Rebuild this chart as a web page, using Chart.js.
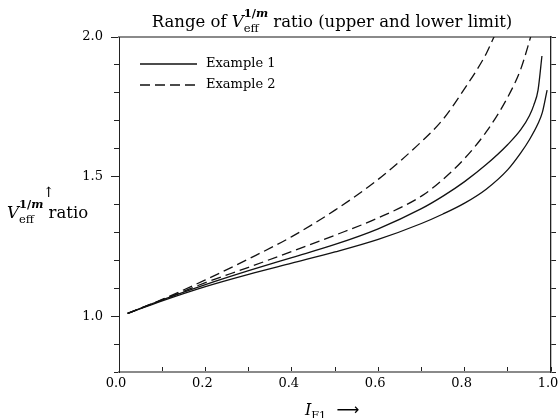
<!DOCTYPE html>
<html>
<head>
<meta charset="utf-8">
<script src="https://cdn.jsdelivr.net/npm/chart.js@4/dist/chart.umd.min.js"></script>
<style>
    body { margin: 0; background: #fff; }
    #wrap { position: relative; width: 560px; height: 418px; font-family: 'DejaVu Serif', serif; color: #000; }
    canvas { position: absolute; left: 0; top: 0; }
    .lbl { position: absolute; white-space: nowrap; font-size: 16px; line-height: 16px; }
    .ss { display: inline-block; vertical-align: -5px; font-size: 11.5px; line-height: 15px; text-align: left; }
    .ss span { display: block; }
    .ss .up { font-weight: bold; }
</style>
</head>
<body>
<div id="wrap">
    <canvas id="chart" width="560" height="418"></canvas>
    <div class="lbl" id="title" style="left:332px; top:6px; font-size:16.5px; transform:translateX(-50%);">Range of <i>V</i><span class="ss"><span class="up">1/<i>m</i></span><span>eff</span></span> ratio (upper and lower limit)</div>
    <div class="lbl" id="ylab" style="left:7px; top:197px; font-size:16.5px;"><i>V</i><span class="ss"><span class="up">1/<i>m</i></span><span>eff</span></span> ratio</div>
    <div class="lbl" style="left:43px; top:184px; font-size:14px;">↑</div>
    <div class="lbl" id="xlab" style="left:305px; top:402px;"><i>I</i><span style="font-size:0.7em; vertical-align:-0.35em;">F1</span>&nbsp;&nbsp;<span style="font-family:'DejaVu Sans', sans-serif;">⟶</span></div>
</div>
<script>
// Example 1 (solid), upper and lower limit
const ex1UpperX = [0.02, 0.1, 0.2, 0.3, 0.4, 0.5, 0.6, 0.7, 0.75, 0.8, 0.85, 0.9, 0.93, 0.95, 0.96, 0.97, 0.979];
const ex1UpperY = [1.01, 1.058, 1.113, 1.163, 1.21, 1.257, 1.313, 1.385, 1.43, 1.482, 1.543, 1.615, 1.668, 1.718, 1.755, 1.81, 1.932];
const ex1LowerX = [0.02, 0.1, 0.2, 0.3, 0.4, 0.5, 0.6, 0.7, 0.75, 0.8, 0.85, 0.9, 0.93, 0.95, 0.97, 0.98, 0.991];
const ex1LowerY = [1.01, 1.055, 1.106, 1.15, 1.19, 1.23, 1.275, 1.332, 1.366, 1.405, 1.455, 1.525, 1.585, 1.632, 1.69, 1.73, 1.81];

// Example 2 (dashed), upper and lower limit
const ex2UpperX = [0.02, 0.1, 0.2, 0.3, 0.4, 0.5, 0.6, 0.7, 0.75, 0.8, 0.85, 0.865, 0.88];
const ex2UpperY = [1.01, 1.06, 1.13, 1.205, 1.285, 1.38, 1.49, 1.625, 1.705, 1.815, 1.94, 1.99, 2.04];
const ex2LowerX = [0.02, 0.1, 0.2, 0.3, 0.4, 0.5, 0.6, 0.7, 0.75, 0.8, 0.85, 0.9, 0.93, 0.95, 0.96];
const ex2LowerY = [1.01, 1.058, 1.12, 1.175, 1.232, 1.29, 1.352, 1.43, 1.49, 1.565, 1.66, 1.785, 1.885, 1.985, 2.04];

const xTickLabels = ['0.0', '0.2', '0.4', '0.6', '0.8', '1.0'];
const yTickLabels = ['1.0', '1.5', '2.0'];
const legendLabels = ['Example 1', 'Example 2'];

const FONT = "'DejaVu Serif', serif";
const DASH = [10, 5];

function pts(xs, ys) {
    return xs.map((x, i) => ({ x: x, y: ys[i] }));
}

function curve(label, xs, ys, dash) {
    return {
        label: label,
        data: pts(xs, ys),
        borderColor: '#111',
        borderWidth: 1.3,
        borderDash: dash,
        pointRadius: 0,
        fill: false,
        cubicInterpolationMode: 'monotone'
    };
}

// legend drawn inside the plot, top left
const innerLegend = {
    id: 'innerLegend',
    afterDatasetsDraw(chart) {
        const { ctx, chartArea } = chart;
        const rows = [[], DASH];
        ctx.save();
        ctx.strokeStyle = '#111';
        ctx.lineWidth = 1.3;
        ctx.fillStyle = '#000';
        ctx.font = '13px ' + FONT;
        ctx.textBaseline = 'middle';
        rows.forEach((dash, i) => {
            const y = chartArea.top + 27 + i * 21;
            ctx.setLineDash(dash);
            ctx.beginPath();
            ctx.moveTo(chartArea.left + 21, y);
            ctx.lineTo(chartArea.left + 78, y);
            ctx.stroke();
            ctx.fillText(legendLabels[i], chartArea.left + 87, y);
        });
        ctx.restore();
    }
};

new Chart(document.getElementById('chart'), {
    type: 'line',
    data: {
        datasets: [
            curve('Example 1 upper', ex1UpperX, ex1UpperY, []),
            curve('Example 1 lower', ex1LowerX, ex1LowerY, []),
            curve('Example 2 upper', ex2UpperX, ex2UpperY, DASH),
            curve('Example 2 lower', ex2LowerX, ex2LowerY, DASH)
        ]
    },
    options: {
        responsive: false,
        animation: false,
        devicePixelRatio: 1,
        layout: { padding: { top: 37, left: 0, right: 0, bottom: 0 } },
        plugins: {
            legend: { display: false },
            tooltip: { enabled: false }
        },
        scales: {
            x: {
                type: 'linear',
                position: 'bottom',
                min: 0,
                max: 1,
                ticks: {
                    stepSize: 0.1,
                    autoSkip: false,
                    maxRotation: 0,
                    padding: 9,
                    labelOffset: -3,
                    color: '#000',
                    font: { family: FONT, size: 13 },
                    callback: (v, i) => (i % 2 === 0 ? xTickLabels[i / 2] : '')
                },
                grid: { drawOnChartArea: false, tickLength: -5, tickColor: '#222', tickWidth: 1 },
                border: { color: '#8a8a8a', width: 2 },
                afterFit: s => {
                    s.height = 46;
                    s.paddingLeft = 0;
                    s.paddingRight = 0;
                }
            },
            xTop: {
                type: 'linear',
                position: 'top',
                min: 0,
                max: 1,
                ticks: { display: false },
                grid: { drawOnChartArea: false, drawTicks: false },
                border: { color: '#8a8a8a', width: 2 },
                afterFit: s => {
                    s.height = 0;
                    s.paddingLeft = 0;
                    s.paddingRight = 0;
                }
            },
            y: {
                type: 'linear',
                position: 'left',
                weight: 1,
                min: 0.8,
                max: 2.0,
                ticks: {
                    stepSize: 0.5,
                    padding: 8,
                    color: '#000',
                    font: { family: FONT, size: 13 },
                    callback: v => {
                        const k = Math.round((v - 1) / 0.5);
                        return (v >= 1 && Math.abs(v - 1 - k * 0.5) < 1e-6) ? yTickLabels[k] : '';
                    }
                },
                grid: {
                    drawOnChartArea: false,
                    tickLength: 8,
                    tickColor: c => (c.tick && c.tick.value < 1 ? 'rgba(0,0,0,0)' : '#222')
                },
                border: { color: '#222', width: 1 },
                afterFit: s => { s.width = 119; }
            },
            yMinor: {
                type: 'linear',
                position: 'left',
                weight: 0,
                min: 0.8,
                max: 2.0,
                ticks: { display: false, stepSize: 0.1 },
                grid: { drawOnChartArea: false, tickLength: 5, tickColor: '#222' },
                border: { display: false },
                afterFit: s => { s.width = 0; }
            },
            yRight: {
                type: 'linear',
                position: 'right',
                min: 0.8,
                max: 2.0,
                ticks: { display: false, stepSize: 0.1 },
                grid: { drawOnChartArea: false, tickLength: 5, tickColor: '#222' },
                border: { color: '#222', width: 1.3 },
                afterFit: s => { s.width = 9; }
            }
        }
    },
    plugins: [innerLegend]
});
</script>
</body>
</html>
